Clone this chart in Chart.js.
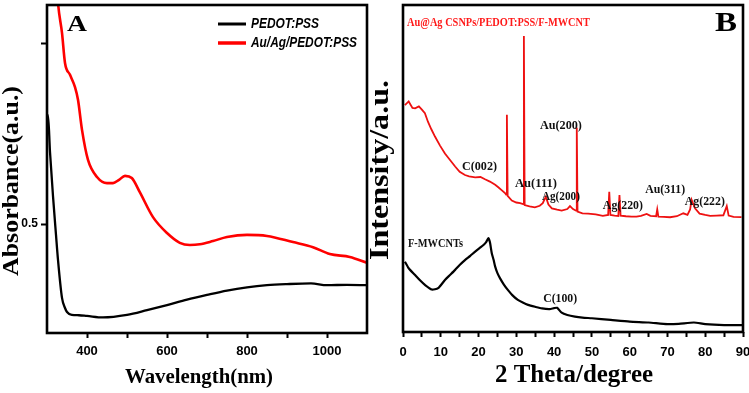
<!DOCTYPE html>
<html>
<head>
<meta charset="utf-8">
<script src="https://cdn.jsdelivr.net/npm/chart.js@4.4.1/dist/chart.umd.min.js"></script>
<style>
  html, body { margin: 0; padding: 0; background: #fff; }
  #wrap { position: relative; width: 749px; height: 393px; overflow: hidden; background: #fff; }
  canvas { position: absolute; top: 0; }
</style>
</head>
<body>
<div id="wrap">
  <canvas id="cA" width="370" height="393" style="left:0px"></canvas>
  <canvas id="cB" width="379" height="393" style="left:370px"></canvas>
</div>
<script>
// ---------------- Panel A data (UV-Vis) ----------------
const pedotX = [300, 302.5, 307.5, 315, 322.5, 327.5, 337.5, 345, 350, 362, 380, 400, 440, 500, 550, 600, 650, 700, 750, 800, 850, 900, 960, 1000, 1050, 1100];
const pedotY = [0.80, 0.801, 0.699, 0.577, 0.470, 0.401, 0.296, 0.268, 0.257, 0.249, 0.248, 0.246, 0.242, 0.249, 0.262, 0.276, 0.291, 0.304, 0.316, 0.325, 0.331, 0.334, 0.336, 0.331, 0.332, 0.331];
const auagX = [322, 328, 337.5, 345, 357.5, 370, 377.5, 387.5, 402.5, 425, 450, 465, 480, 495, 512, 532, 565, 600, 632, 657, 682, 715, 750, 800, 850, 915, 965, 1007, 1057, 1100];
const auagY = [1.2, 1.105, 1.028, 0.945, 0.912, 0.878, 0.843, 0.760, 0.677, 0.630, 0.613, 0.613, 0.622, 0.633, 0.627, 0.588, 0.519, 0.475, 0.448, 0.442, 0.444, 0.453, 0.464, 0.470, 0.467, 0.450, 0.436, 0.417, 0.409, 0.393];
const xTicksA = [400, 500, 600, 700, 800, 900, 1000];
const xLabelsA = [400, 600, 800, 1000];
const yTicksA = [0.5, 1.0];
const yLabelsA = [0.5];
const seriesNamesA = ['PEDOT:PSS', 'Au/Ag/PEDOT:PSS'];

// ---------------- Panel B data (XRD) ----------------
const redTheta = [0.5, 1.5, 2.5, 3.2, 4.2, 5.0, 5.8, 6.6, 7.5, 8.5, 9.8, 11.1, 12.5, 13.8, 15.0, 16.4, 17.5, 19.1, 20.5, 21.7, 23.0, 24.4, 25.3, 26.1, 27.0, 27.3, 27.5, 27.7, 28.8, 30.0, 31.0, 31.8, 32.0, 32.2, 33.5, 34.9, 36.2, 37.0, 37.8, 38.5, 39.4, 40.8, 42.0, 43.5, 44.2, 45.0, 45.8, 46.0, 46.2, 47.5, 49.0, 51.0, 52.9, 54.3, 54.6, 54.9, 56.0, 57.0, 57.3, 57.6, 59.0, 60.5, 61.8, 63.0, 64.5, 65.5, 67.0, 67.3, 67.6, 69.0, 70.7, 72.5, 74.2, 75.3, 76.0, 76.4, 76.9, 77.3, 78.5, 80.0, 81.3, 83.0, 84.8, 85.7, 86.2, 87.5, 89.6];
const redIntensity = [69.4, 70.5, 68.5, 68.4, 69.0, 68.0, 66.9, 64.3, 62.0, 59.7, 57.0, 54.6, 52.5, 50.6, 49.0, 48.0, 47.6, 47.3, 47.4, 46.7, 46.0, 45.0, 44.2, 43.4, 42.5, 42.0, 66.4, 41.6, 40.2, 39.6, 39.4, 39.1, 90.5, 38.8, 38.4, 38.1, 38.6, 39.4, 41.4, 39.0, 37.8, 37.4, 37.1, 37.6, 38.5, 37.6, 37.1, 62.5, 36.8, 36.3, 36.2, 36.0, 35.5, 35.8, 42.9, 35.8, 35.6, 35.5, 41.9, 35.6, 35.4, 35.3, 35.3, 35.5, 36.1, 35.5, 35.4, 37.5, 35.3, 35.2, 35.1, 35.4, 36.3, 35.8, 37.5, 40.4, 39.0, 37.8, 36.2, 35.8, 35.5, 35.6, 35.7, 38.5, 35.6, 35.2, 35.1];
const blackTheta = [0.5, 1.5, 3.2, 4.5, 5.8, 7.6, 9.3, 11.1, 12.5, 13.8, 15.0, 16.4, 17.8, 19.1, 20.3, 21.3, 22.0, 22.6, 23.0, 23.5, 24.0, 24.4, 25.0, 25.7, 26.7, 27.8, 29.0, 30.4, 31.7, 33.1, 35.0, 36.8, 38.8, 40.0, 40.8, 42.0, 43.5, 45.5, 47.5, 50.0, 55.0, 60.0, 65.0, 70.0, 73.0, 77.0, 80.0, 85.0, 89.8];
const blackIntensity = [21.5, 19.5, 17.4, 15.8, 14.4, 13.0, 13.4, 15.9, 17.5, 19.0, 20.5, 22.0, 23.3, 24.6, 25.7, 26.6, 27.5, 28.7, 27.5, 24.1, 22.0, 20.0, 18.0, 16.4, 14.5, 12.8, 11.2, 9.8, 9.0, 8.3, 7.7, 7.2, 7.0, 7.3, 7.4, 5.9, 5.2, 4.7, 4.4, 4.2, 3.7, 3.2, 2.9, 2.4, 2.5, 2.9, 2.4, 2.1, 2.1];
const xTicksB = [0, 5, 10, 15, 20, 25, 30, 35, 40, 45, 50, 55, 60, 65, 70, 75, 80, 85, 90];
const xLabelsB = [0, 10, 20, 30, 40, 50, 60, 70, 80, 90];
const peakNames = ['C(002)', 'Au(111)', 'Au(200)', 'Ag(200)', 'Ag(220)', 'Au(311)', 'Ag(222)', 'F-MWCNTs', 'C(100)'];
const peakTheta = [20.25, 35.2, 41.8, 41.8, 58.2, 69.4, 79.9, 8.6, 41.6];
const peakLevel = [50.5, 45.3, 63.0, 41.3, 38.6, 43.4, 39.8, 26.9, 10.1];

// ---------------- helpers ----------------
const toPts = (xs, ys) => xs.map((x, i) => ({ x: x, y: ys[i] }));
const SANS = '"Liberation Sans", Arial, sans-serif';
const SERIF = '"Liberation Serif", "Times New Roman", serif';

function fitText(ctx, txt, x, y, font, color, width, rot, align) {
  ctx.save();
  ctx.font = font;
  ctx.fillStyle = color;
  ctx.textAlign = align || 'center';
  ctx.textBaseline = 'middle';
  ctx.translate(x, y);
  if (rot) ctx.rotate(rot);
  const w = ctx.measureText(txt).width;
  const sx = width ? width / w : 1;
  ctx.scale(sx, 1);
  ctx.fillText(txt, 0, 0);
  ctx.restore();
}

function noPad(ax) { ax.paddingLeft = 0; ax.paddingRight = 0; ax.paddingTop = 0; ax.paddingBottom = 0; }

const framePlugin = {
  id: 'frame',
  afterDatasetsDraw(chart) {
    const a = chart.chartArea, ctx = chart.ctx;
    ctx.save();
    ctx.strokeStyle = '#000';
    ctx.lineWidth = 2.6;
    ctx.strokeRect(a.left, a.top, a.right - a.left, a.bottom - a.top);
    ctx.restore();
  }
};

// ---------------- Chart A ----------------
const decorA = {
  id: 'decorA',
  afterDraw(chart) {
    const ctx = chart.ctx;
    ctx.save();
    ctx.lineWidth = 3;
    ctx.strokeStyle = '#000';
    ctx.beginPath(); ctx.moveTo(218, 24); ctx.lineTo(246, 24); ctx.stroke();
    ctx.strokeStyle = '#ff0000';
    ctx.lineWidth = 3.5;
    ctx.beginPath(); ctx.moveTo(218, 43); ctx.lineTo(246, 43); ctx.stroke();
    ctx.restore();
    fitText(ctx, seriesNamesA[0], 251, 24, 'italic bold 15px ' + SANS, '#000', 68, 0, 'left');
    fitText(ctx, seriesNamesA[1], 251, 43, 'italic bold 15px ' + SANS, '#000', 106, 0, 'left');
    fitText(ctx, 'A', 77, 25, 'bold 24px ' + SERIF, '#000', 20, 0, 'center');
    fitText(ctx, 'Absorbance(a.u.)', 12.5, 181, 'bold 23px ' + SERIF, '#000', 190, -Math.PI / 2, 'center');
    fitText(ctx, 'Wavelength(nm)', 199, 377, 'bold 22px ' + SERIF, '#000', 148, 0, 'center');
  }
};

new Chart(document.getElementById('cA'), {
  type: 'line',
  data: {
    datasets: [
      { label: seriesNamesA[0], data: toPts(pedotX, pedotY), borderColor: '#000', borderWidth: 2.3, pointRadius: 0, cubicInterpolationMode: 'monotone', fill: false },
      { label: seriesNamesA[1], data: toPts(auagX, auagY), borderColor: '#ff0000', borderWidth: 2.6, pointRadius: 0, cubicInterpolationMode: 'monotone', fill: false }
    ]
  },
  options: {
    responsive: false,
    animation: false,
    devicePixelRatio: 1,
    layout: { padding: { left: 0, right: 3, top: 5, bottom: 0 } },
    plugins: { legend: { display: false }, tooltip: { enabled: false } },
    scales: {
      x: {
        type: 'linear', min: 300, max: 1100,
        afterBuildTicks: (ax) => { ax.ticks = xTicksA.map(v => ({ value: v })); },
        afterFit: (ax) => { ax.height = 60; noPad(ax); },
        ticks: {
          autoSkip: false, maxRotation: 0, padding: 6, color: '#000',
          font: { family: SANS, size: 13, weight: 'bold' },
          callback: (v) => xLabelsA.includes(v) ? String(v) : ''
        },
        grid: { drawOnChartArea: false, drawTicks: true, tickLength: 5, tickColor: '#000', tickWidth: 2 },
        border: { display: false }
      },
      y: {
        type: 'linear', min: 0.1989, max: 1.105,
        afterBuildTicks: (ax) => { ax.ticks = yTicksA.map(v => ({ value: v })); },
        afterFit: (ax) => { ax.width = 47; noPad(ax); },
        ticks: {
          autoSkip: false, padding: 3, color: '#000',
          font: { family: SANS, size: 12, weight: 'bold' },
          callback: (v) => yLabelsA.includes(v) ? v.toFixed(1) : ''
        },
        grid: { drawOnChartArea: false, drawTicks: true, tickLength: 6, tickColor: '#000', tickWidth: 2 },
        border: { display: false }
      }
    }
  },
  plugins: [framePlugin, decorA]
});

// ---------------- Chart B ----------------
const decorB = {
  id: 'decorB',
  afterDraw(chart) {
    const ctx = chart.ctx;
    const xs = chart.scales.x, ys = chart.scales.y;
    const off = 370;
    fitText(ctx, 'Au@Ag CSNPs/PEDOT:PSS/F-MWCNT', 407 - off, 23, 'bold 12px ' + SERIF, '#ff1a1a', 183, 0, 'left');
    fitText(ctx, 'B', 726 - off, 24, 'bold 28px ' + SERIF, '#000', 22, 0, 'center');
    const widths = [35, 42, 42, 38, 40, 40, 40, 55, 34];
    peakNames.forEach((n, i) => {
      fitText(ctx, n, xs.getPixelForValue(peakTheta[i]), ys.getPixelForValue(peakLevel[i]), 'bold 13px ' + SERIF, '#111', widths[i], 0, 'center');
    });
    fitText(ctx, 'Intensity/a.u.', 381 - off, 170, 'bold 27px ' + SERIF, '#000', 180, -Math.PI / 2, 'center');
    fitText(ctx, '2 Theta/degree', 574 - off, 376, 'bold 25px ' + SERIF, '#000', 158, 0, 'center');
  }
};

new Chart(document.getElementById('cB'), {
  type: 'line',
  data: {
    datasets: [
      { label: 'Au@Ag CSNPs/PEDOT:PSS/F-MWCNT', data: toPts(redTheta, redIntensity), borderColor: '#ee1111', borderWidth: 1.8, pointRadius: 0, tension: 0, fill: false },
      { label: 'F-MWCNTs', data: toPts(blackTheta, blackIntensity), borderColor: '#000', borderWidth: 2.2, pointRadius: 0, tension: 0.2, fill: false }
    ]
  },
  options: {
    responsive: false,
    animation: false,
    devicePixelRatio: 1,
    layout: { padding: { left: 0, right: 6, top: 5, bottom: 0 } },
    plugins: { legend: { display: false }, tooltip: { enabled: false } },
    scales: {
      x: {
        type: 'linear', min: 0, max: 90,
        afterBuildTicks: (ax) => { ax.ticks = xTicksB.map(v => ({ value: v })); },
        afterFit: (ax) => { ax.height = 61; noPad(ax); },
        ticks: {
          autoSkip: false, maxRotation: 0, padding: 8, color: '#000',
          font: { family: SANS, size: 13, weight: 'bold' },
          callback: (v) => xLabelsB.includes(v) ? String(v) : ''
        },
        grid: { drawOnChartArea: false, drawTicks: true, tickLength: 5, tickColor: '#000', tickWidth: 2 },
        border: { display: false }
      },
      y: {
        type: 'linear', min: 0, max: 100,
        afterFit: (ax) => { ax.width = 33; noPad(ax); },
        ticks: { display: false },
        grid: { display: false },
        border: { display: false }
      }
    }
  },
  plugins: [framePlugin, decorB]
});
</script>
</body>
</html>
